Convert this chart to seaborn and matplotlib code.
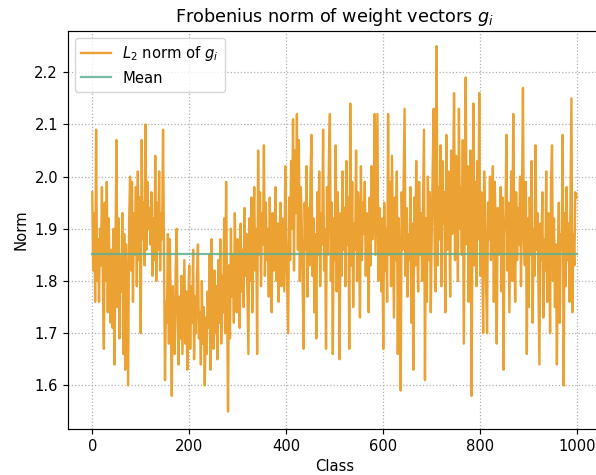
import numpy as np
import pandas as pd
import matplotlib
matplotlib.use("Agg")
import matplotlib.pyplot as plt
import seaborn as sns

norm_values = [
    1.97, 1.82, 1.93, 1.76, 2.09, 1.80, 1.88, 1.76, 1.90, 1.83, 1.98, 1.79, 1.67, 1.95, 1.80, 1.99, 1.74, 1.92, 1.81, 1.72,
    1.86, 1.71, 1.90, 1.64, 1.88, 2.07, 1.75, 1.92, 1.69, 1.85, 1.78, 1.93, 1.66, 1.89, 1.63, 1.87, 1.74, 1.60, 1.91, 2.00,
    1.82, 1.99, 1.76, 1.93, 1.85, 1.98, 1.79, 2.01, 1.84, 1.96, 1.70, 2.07, 1.88, 1.95, 1.83, 2.10, 1.86, 1.99, 1.90, 1.94,
    1.87, 1.97, 1.81, 1.92, 1.84, 2.04, 1.80, 1.95, 1.86, 2.01, 1.82, 1.93, 1.88, 2.09, 1.84, 1.61, 1.76, 1.72, 1.89, 1.68,
    1.88, 1.74, 1.58, 1.79, 1.70, 1.66, 1.82, 1.90, 1.73, 1.64, 1.77, 1.69, 1.81, 1.66, 1.75, 1.84, 1.68, 1.78, 1.63, 1.76,
    1.83, 1.67, 1.79, 1.72, 1.86, 1.65, 1.77, 1.70, 1.81, 1.87, 1.69, 1.74, 1.64, 1.80, 1.68, 1.75, 1.60, 1.73, 1.66, 1.78,
    1.71, 1.85, 1.63, 1.88, 1.74, 1.67, 1.82, 1.70, 1.79, 1.65, 1.84, 1.72, 1.88, 1.68, 1.81, 1.74, 1.92, 1.70, 1.99, 1.76,
    1.55, 1.83, 1.69, 1.90, 1.77, 1.85, 1.72, 1.93, 1.80, 1.74, 1.88, 1.83, 1.71, 1.91, 1.78, 1.86, 1.75, 1.94, 1.81, 1.89,
    1.78, 1.66, 1.92, 1.80, 1.96, 1.74, 1.88, 1.98, 1.82, 1.90, 1.66, 2.05, 1.85, 1.97, 1.79, 1.93, 1.87, 2.06, 1.81, 1.95,
    1.84, 1.90, 1.77, 1.96, 1.86, 1.74, 1.93, 1.82, 1.89, 1.98, 1.80, 1.91, 1.76, 1.87, 1.95, 1.79, 1.92, 1.85, 1.78, 2.02,
    1.88, 1.79, 1.70, 1.96, 1.84, 2.03, 1.90, 2.11, 1.82, 2.05, 1.93, 2.12, 1.86, 2.07, 1.80, 1.98, 1.91, 1.78, 1.67, 1.95,
    1.86, 2.02, 1.77, 1.94, 1.83, 2.00, 2.08, 1.81, 1.92, 1.74, 1.89, 1.69, 1.97, 1.85, 2.01, 1.79, 1.93, 1.87, 2.09, 1.82,
    1.90, 1.67, 1.98, 1.85, 2.04, 2.12, 1.80, 1.95, 1.66, 1.92, 1.84, 2.06, 1.78, 1.97, 1.88, 1.65, 1.93, 1.81, 2.01, 1.86,
    1.94, 1.79, 2.03, 1.87, 1.96, 1.67, 2.14, 1.83, 1.99, 1.75, 1.91, 1.86, 2.05, 1.80, 1.97, 1.88, 1.73, 2.02, 1.84, 1.95,
    1.89, 1.99, 1.81, 1.93, 1.86, 1.74, 1.96, 1.83, 2.02, 1.88, 1.91, 2.12, 1.85, 1.98, 2.12, 1.80, 1.94, 1.87, 1.78, 1.92,
    1.67, 1.95, 1.82, 1.90, 1.76, 2.12, 1.85, 1.99, 1.79, 2.04, 1.88, 1.73, 1.96, 1.84, 2.01, 1.66, 1.92, 1.80, 1.59, 1.97,
    1.86, 2.00, 2.13, 1.81, 1.94, 1.77, 1.89, 1.84, 1.98, 1.72, 1.91, 1.63, 1.96, 1.83, 2.03, 1.87, 1.78, 1.99, 1.85, 1.93,
    1.80, 1.95, 2.09, 1.61, 1.92, 1.76, 2.00, 1.84, 1.97, 1.74, 1.89, 2.02, 2.13, 1.86, 1.78, 2.25, 1.83, 1.98, 1.88, 2.06,
    1.79, 2.03, 1.91, 1.97, 1.74, 2.08, 1.86, 2.01, 1.93, 1.77, 2.05, 1.89, 1.99, 2.16, 1.84, 2.04, 1.95, 1.80, 2.13, 1.90,
    1.98, 1.85, 2.07, 1.68, 1.94, 2.19, 1.87, 2.02, 1.76, 1.96, 2.05, 1.58, 1.92, 2.14, 1.83, 1.99, 1.79, 2.03, 1.88, 2.16,
    1.81, 1.97, 1.86, 1.70, 2.01, 1.93, 1.79, 1.70, 1.95, 1.88, 2.00, 1.84, 1.92, 2.02, 1.76, 1.99, 1.87, 1.68, 1.94, 1.85,
    1.90, 1.98, 1.78, 1.96, 1.63, 1.89, 1.93, 2.08, 1.82, 1.95, 1.74, 1.88, 2.01, 1.80, 2.12, 1.91, 1.76, 1.97, 1.84, 1.94,
    1.87, 2.00, 1.79, 1.95, 2.17, 1.88, 1.83, 1.99, 1.66, 1.92, 1.75, 1.96, 1.85, 2.03, 1.72, 1.90, 1.81, 2.06, 1.86, 1.93,
    1.78, 1.64, 1.91, 1.84, 1.97, 1.73, 1.88, 1.82, 2.01, 1.76, 1.93, 1.86, 1.70, 1.99, 2.06, 1.80, 1.92, 1.75, 1.87, 1.64,
    1.83, 1.95, 1.72, 1.89, 1.86, 2.08, 1.60, 1.93, 1.79, 1.98, 1.84, 1.91, 1.76, 1.95, 2.15, 1.74, 1.89, 1.83, 1.97, 1.96,
]
class_index = list(range(0, 2 * len(norm_values), 2))
class_index[-1] = 999
mean_norm = 1.851
x_ticks = [0, 200, 400, 600, 800, 1000]
y_ticks = [1.6, 1.7, 1.8, 1.9, 2.0, 2.1, 2.2]

df = pd.DataFrame({"Class": class_index, "Norm": norm_values})
mean_df = pd.DataFrame({"Class": [class_index[0], class_index[-1]],
                        "Norm": [mean_norm, mean_norm]})

base = 10.6
fig = plt.figure(figsize=(5.96, 4.75), dpi=100)
ax = fig.add_axes([68 / 596, 1 - 428.7 / 475, (601 - 68) / 596, (428.7 - 31) / 475])

sns.lineplot(data=df, x="Class", y="Norm", ax=ax, color="#eca233", linewidth=1.7,
             estimator=None, label=r"$L_2$ norm of $g_i$")
sns.lineplot(data=mean_df, x="Class", y="Norm", ax=ax, color="#5fb08f", linewidth=1.6,
             alpha=0.85, estimator=None, label="Mean")

ax.set_xlim(-49.95, 1048.95)
ax.set_ylim(1.517, 2.279)
ax.set_xticks(x_ticks)
ax.set_yticks(y_ticks)
ax.grid(True, linestyle=":", color="#b0b0b0", linewidth=0.9)
ax.set_axisbelow(True)
ax.spines["right"].set_visible(False)
for s in ["left", "top", "bottom"]:
    ax.spines[s].set_linewidth(0.85)
ax.set_title(r"Frobenius norm of weight vectors $g_i$", fontsize=base * 1.2, pad=6.5)
ax.set_xlabel("Class", fontsize=base)
ax.set_ylabel("Norm", fontsize=base)
ax.tick_params(labelsize=base, length=3.7, width=0.85)
ax.legend(loc="upper left", fontsize=base)

fig.savefig("out.png", dpi=100)
